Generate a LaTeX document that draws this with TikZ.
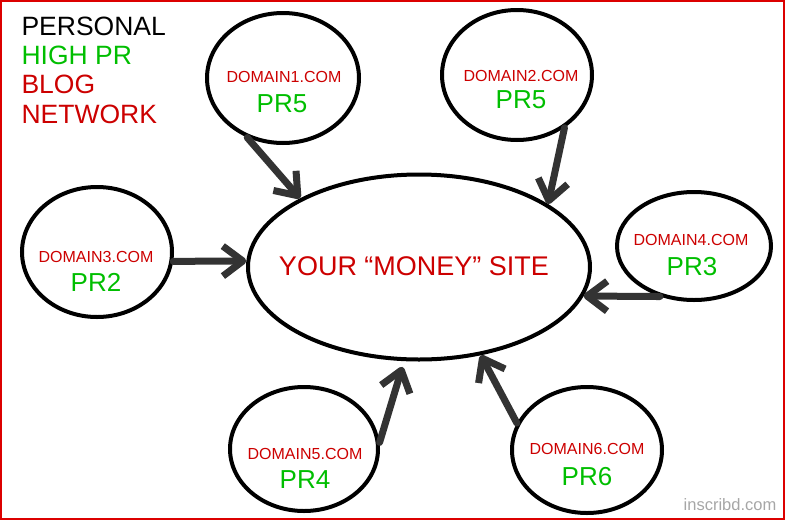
\documentclass[tikz,border=0pt]{standalone}
\usepackage{fontspec}
\setmainfont{Liberation Sans}
\usetikzlibrary{shapes.geometric,arrows.meta}
\definecolor{domred}{RGB}{204,0,0}
\definecolor{prgreen}{RGB}{0,190,0}
\definecolor{linkgray}{RGB}{51,51,51}
\definecolor{framered}{RGB}{220,0,0}

\begin{document}
\begin{tikzpicture}[x=1pt, y=-1pt,
  site/.style={draw, ellipse, line width=4pt, inner sep=0pt},
  domtxt/.style={text=domred, font=\fontsize{16}{19}\selectfont},
  prtxt/.style={text=prgreen, font=\fontsize{26}{31}\selectfont},
  titletxt/.style={anchor=base west, font=\fontsize{26.5}{32}\selectfont},
  link/.style={draw=linkgray, line width=7pt, line cap=round,
    -{Straight Barb[length=20pt,width=30pt,line join=round]}}]
  \useasboundingbox (0,0) rectangle (785,520);
  \draw[framered, line width=2pt] (1,1) rectangle (784,519);

  % title
  \node[titletxt] (l1) at (18,35) {PERSONAL};
  \node[titletxt, text=prgreen] (l2) at (18,64) {HIGH PR};
  \node[titletxt, text=domred] (l3) at (18,93) {BLOG};
  \node[titletxt, text=domred] (l4) at (18,123) {NETWORK};

  % money site
  \node[site, minimum width=342pt, minimum height=185pt] (money) at (419,267) {};
  \node[text=domred, font=\fontsize{27}{32}\selectfont] (mtxt) at (414,266) {YOUR “MONEY” SITE};

  % blogs
  \node[site, minimum width=152pt, minimum height=130pt] (d1) at (283,78) {};
  \node[site, minimum width=150pt, minimum height=130pt] (d2) at (517,75) {};
  \node[site, minimum width=150pt, minimum height=130pt] (d3) at (97,252) {};
  \node[site, minimum width=154pt, minimum height=108pt] (d4) at (694,246) {};
  \node[site, minimum width=148pt, minimum height=124pt] (d5) at (304,449) {};
  \node[site, minimum width=150pt, minimum height=126pt] (d6) at (587,450) {};

  \node[domtxt] (n1) at (284,77) {DOMAIN1.COM};
  \node[prtxt] (p1) at (282,104) {PR5};
  \node[domtxt] (n2) at (521,76) {DOMAIN2.COM};
  \node[prtxt] (p2) at (521,100) {PR5};
  \node[domtxt] (n3) at (96,257) {DOMAIN3.COM};
  \node[prtxt] (p3) at (96,282) {PR2};
  \node[domtxt] (n4) at (691,240) {DOMAIN4.COM};
  \node[prtxt] (p4) at (692,267) {PR3};
  \node[domtxt] (n5) at (305,454) {DOMAIN5.COM};
  \node[prtxt] (p5) at (305,480) {PR4};
  \node[domtxt] (n6) at (587,449) {DOMAIN6.COM};
  \node[prtxt] (p6) at (587,477) {PR6};

  % links
  \draw[link] (d1.239) -- (money.150);
  \draw[link] (d2.-48) -- (money.26);
  \draw[link] (d3.-7) -- (money.178);
  \draw[link] (d4.236) -- (money.-10);
  \draw[link, shorten >=6pt] (d5.5) -- (money.-99);
  \draw[link] (d6.159) -- (money.-55);

  \node[text=black!35, font=\fontsize{16.5}{20}\selectfont] (wm) at (730,505) {inscribd.com};
\end{tikzpicture}
\end{document}
